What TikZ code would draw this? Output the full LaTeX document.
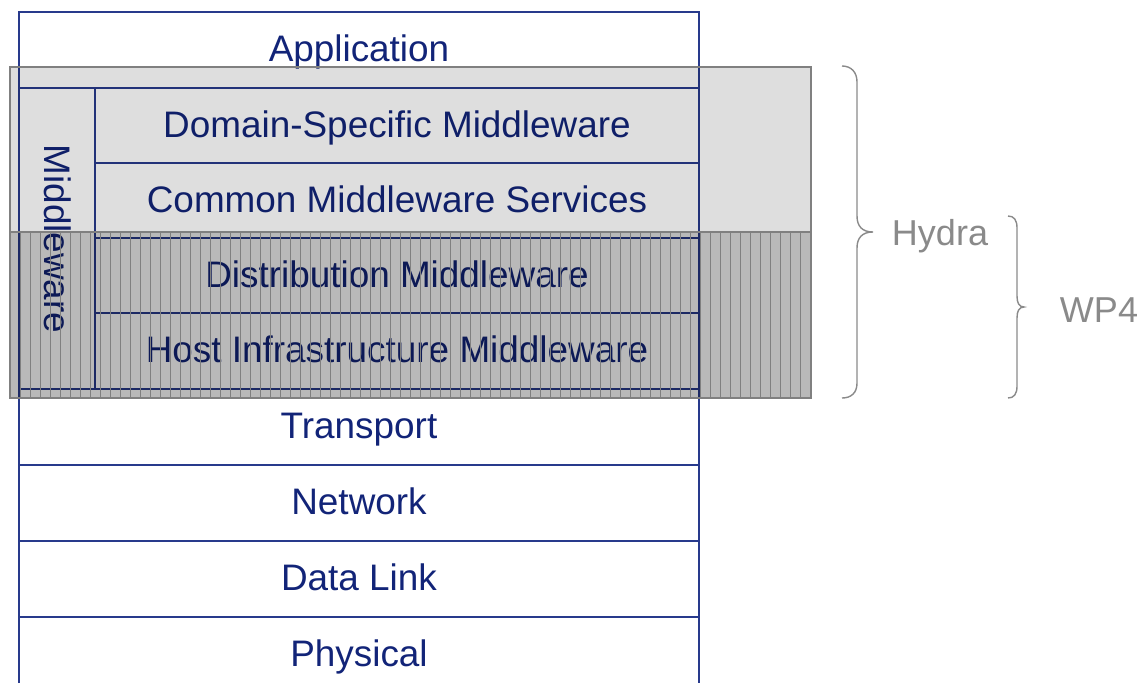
\documentclass[tikz,border=0pt]{standalone}
\usepackage{fontspec}
\setmainfont{Liberation Sans}
\usetikzlibrary{patterns.meta}
\definecolor{osiblue}{RGB}{18,36,120}
\definecolor{osiline}{RGB}{40,58,140}
\definecolor{bracegray}{RGB}{138,138,138}
\tikzset{>=stealth,
  layerline/.style={osiline, line width=0.8pt},
  layertext/.style={osiblue, anchor=base, font=\fontsize{21}{25}\selectfont},
  graytext/.style={bracegray, anchor=base, font=\fontsize{20.5}{24}\selectfont},
  bracepath/.style={bracegray, line width=0.8pt},
  boxline/.style={gray, line width=1.1pt}}

\begin{document}
\begin{tikzpicture}[x=0.02cm, y=-0.02cm]
     \useasboundingbox (0,0) rectangle (1145,683);
     \draw[layerline] (19,683) -- (19,12) -- (699,12) -- (699,683);
     \foreach \y in {88,389,465,541,617} \draw[layerline] (19,\y) -- (699,\y);
     \foreach \y in {163,238,313} \draw[layerline] (95,\y) -- (699,\y);
     \draw[layerline] (95,88) -- (95,389);
     \node[layertext] (app) at (359,61) {Application};
     \node[layertext] (domain) at (397,137) {Domain-Specific Middleware};
     \node[layertext] (common) at (397,212) {Common Middleware Services};
     \node[layertext] (distrib) at (397,287) {Distribution Middleware};
     \node[layertext] (host) at (397,362) {Host Infrastructure Middleware};
     \node[layertext] (transport) at (359,438) {Transport};
     \node[layertext] (network) at (359,514) {Network};
     \node[layertext] (datalink) at (359,590) {Data Link};
     \node[layertext] (physical) at (359,666) {Physical};
     \node[layertext, anchor=center, rotate=-90] (middleware) at (58,239) {Middleware};
     \fill[black, fill opacity=0.13] (10,67) rectangle (811,398);
     \fill[black, fill opacity=0.17] (10,232) rectangle (811,398);
     \fill[pattern={Lines[angle=90, distance=0.2cm, line width=0.3pt]}, pattern color=gray, fill opacity=0.3] (10,232) rectangle (811,398);
     \draw[boxline] (10,67) rectangle (811,398);
     \draw[boxline] (10,232) -- (811,232);
     \draw[bracepath] (842,66) .. controls (851,66) and (857,72) .. (857,82) -- (857,216)
          .. controls (857,226) and (862,232) .. (873,232) .. controls (862,232) and (857,238) .. (857,248)
          -- (857,383) .. controls (857,393) and (851,398) .. (842,398);
     \draw[bracepath] (1008,216) .. controls (1014,216) and (1017,220) .. (1017,228) -- (1017,296)
          .. controls (1017,303) and (1019,307) .. (1024,307) .. controls (1019,307) and (1017,311) .. (1017,318)
          -- (1017,386) .. controls (1017,394) and (1014,398) .. (1008,398);
     \node[graytext] (hydra) at (940,245) {Hydra};
     \node[graytext] (wp4) at (1099,322) {WP4};
\end{tikzpicture}
\end{document}
